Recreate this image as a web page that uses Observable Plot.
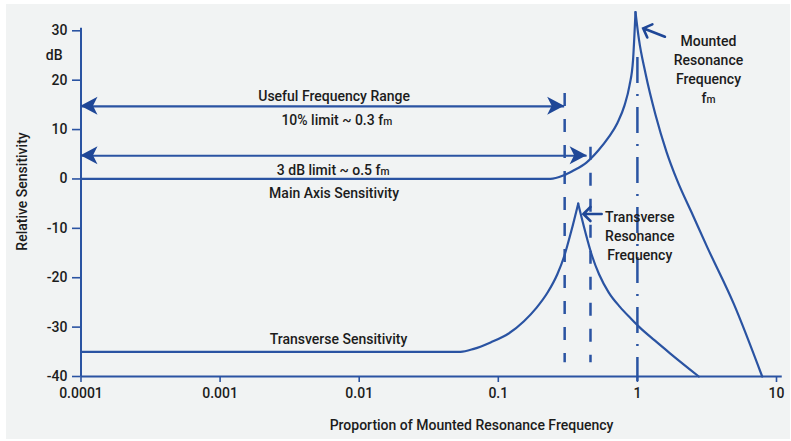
<!DOCTYPE html>
<html>
<head>
<meta charset="utf-8">
<script src="https://cdn.jsdelivr.net/npm/d3@7"></script>
<script src="https://cdn.jsdelivr.net/npm/@observablehq/plot@0.6"></script>
<style>
  html, body { margin: 0; padding: 0; background: #ffffff; width: 791px; height: 441px; overflow: hidden; }
  #panel { position: absolute; left: 6px; top: 4px; width: 784px; height: 435px; background: #f1f3f3; }
  #chart { position: absolute; left: 0; top: 0; }
</style>
</head>
<body>
<div id="panel"></div>
<div id="chart"></div>
<script>
// Main-axis sensitivity (dB) vs. proportion of the mounted resonance frequency,
// split at the resonance peak so each flank is interpolated on its own.
const mainRiseFreq = [0.0001, 0.237, 0.294, 0.347, 0.43, 0.525, 0.62, 0.72, 0.808, 0.877, 0.93, 0.969];
const mainRiseDb   = [0, 0, 0.7, 1.7, 3.3, 5.8, 8.4, 11.4, 14.9, 18.9, 24.0, 33.8];
const mainFallFreq = [0.969, 1.024, 1.143, 1.349, 1.619, 1.932, 2.5, 3.176, 4.932, 7.89];
const mainFallDb   = [33.8, 28.4, 21.4, 13.0, 5.5, -0.3, -7.3, -13.8, -25.3, -40];

// Transverse sensitivity (dB), split at the transverse resonance peak
const transRiseFreq = [0.0001, 0.0535, 0.0667, 0.088, 0.1187, 0.1529, 0.188, 0.2261, 0.2657, 0.2981, 0.3344, 0.3753];
const transRiseDb   = [-35, -35, -34.4, -33.1, -31.3, -28.8, -26.1, -23.0, -19.3, -15.6, -10.6, -5.0];
const transFallFreq = [0.3753, 0.421, 0.4724, 0.5301, 0.6228, 0.7488, 0.9003, 1.0337, 1.3317, 1.7158, 2.763];
const transFallDb   = [-5.0, -10.6, -15.6, -19.3, -23.0, -25.9, -28.3, -30.0, -32.7, -35.3, -40];

// Axis ticks
const xTicks = [0.0001, 0.001, 0.01, 0.1, 1, 10];
const xTickLabels = ["0.0001", "0.001", "0.01", "0.1", "1", "10"];
const yTicks = [30, 20, 10, 0, -10, -20, -30, -40];
const xAxisSpan = [0.0001, 11];
const yAxisSpan = [-40, 30.5];

// Frequency-range arrows (10% limit and 3 dB limit)
const rangeDb = [14.7, 4.7];
const rangeStart = [0.0001, 0.0001];
const rangeEnd = [0.3, 0.435];

// Dashed limit lines
const limitFreq = [0.3, 0.46];
const limitTop = [17.3, 6.4];
const limitBottom = [-37.2, -37.2];

// Dash-dot line at the mounted resonance frequency
const resonanceFreq = [1];
const resonanceTop = [24.6];
const resonanceBottom = [-41];

// Pointer arrows towards the two resonance peaks
const pointerTailFreq = [1.59, 0.558];
const pointerTailDb = [28.7, -7.2];
const pointerTipFreq = [1.11, 0.412];
const pointerTipDb = [30.4, -7.2];

// Annotations
const noteText = [
  "Useful Frequency Range",
  "10% limit ~ 0.3 fₘ",
  "3 dB limit ~ o.5 fₘ",
  "Main Axis Sensitivity",
  "Transverse Sensitivity",
  "Mounted\nResonance\nFrequency\nfₘ",
  "Transverse\nResonance\nFrequency"
];
const noteFreq = [0.0066, 0.0069, 0.0065, 0.0066, 0.0071, 3.245, 1.04];
const noteDb = [17.0, 12.2, 2.0, -2.6, -32.1, 22.4, -11.3];

const BLUE = "#2a53a2";
const DARK_BLUE = "#1f4797";
const INK = "#1c1c1c";

// Tables built from the arrays above
const curveRows = [
  ...mainRiseFreq.map((f, i) => ({segment: "main-rise", freq: f, db: mainRiseDb[i]})),
  ...mainFallFreq.map((f, i) => ({segment: "main-fall", freq: f, db: mainFallDb[i]})),
  ...transRiseFreq.map((f, i) => ({segment: "trans-rise", freq: f, db: transRiseDb[i]})),
  ...transFallFreq.map((f, i) => ({segment: "trans-fall", freq: f, db: transFallDb[i]}))
];
const rangeRows = rangeDb.map((db, i) => ({db, start: rangeStart[i], end: rangeEnd[i]}));
const limitRows = limitFreq.map((f, i) => ({freq: f, top: limitTop[i], bottom: limitBottom[i]}));
const resonanceRows = resonanceFreq.map((f, i) => ({freq: f, top: resonanceTop[i], bottom: resonanceBottom[i]}));
const pointerRows = pointerTipFreq.map((f, i) => ({
  tailFreq: pointerTailFreq[i], tailDb: pointerTailDb[i], tipFreq: f, tipDb: pointerTipDb[i]
}));
const noteRows = noteText.map((t, i) => ({text: t, freq: noteFreq[i], db: noteDb[i]}));

// Arrowheads: filled darts for the range arrows, open chevrons for the pointers
function arrowHeads(index, {x, y}) {
  const g = d3.create("svg:g");
  for (const r of rangeRows) {
    const py = y(r.db);
    for (const [px, rot] of [[x(r.start), 180], [x(r.end), 0]]) {
      g.append("path")
        .attr("d", "M0,0L-17,-9L-12.5,0L-17,9Z")
        .attr("fill", DARK_BLUE)
        .attr("transform", `translate(${px},${py}) rotate(${rot})`);
    }
  }
  for (const p of pointerRows) {
    const x1 = x(p.tailFreq), y1 = y(p.tailDb), x2 = x(p.tipFreq), y2 = y(p.tipDb);
    const a = Math.atan2(y2 - y1, x2 - x1);
    const len = 10, spread = 0.78;
    const w1 = [x2 - len * Math.cos(a - spread), y2 - len * Math.sin(a - spread)];
    const w2 = [x2 - len * Math.cos(a + spread), y2 - len * Math.sin(a + spread)];
    g.append("path")
      .attr("d", `M${x1},${y1}L${x2},${y2}M${w1}L${x2},${y2}L${w2}`)
      .attr("fill", "none")
      .attr("stroke", DARK_BLUE)
      .attr("stroke-width", 2.6)
      .attr("stroke-linecap", "round")
      .attr("stroke-linejoin", "miter");
  }
  return g.node();
}

const chart = Plot.plot({
  width: 791,
  height: 441,
  marginLeft: 80,
  marginRight: 11,
  marginTop: 6,
  marginBottom: 65,
  style: {
    fontFamily: "Roboto, 'Noto Sans', sans-serif",
    fontSize: "14px",
    fontWeight: 500,
    color: INK,
    background: "transparent",
    overflow: "visible"
  },
  x: {type: "log", domain: [xTicks[0], xTicks[xTicks.length - 1]], range: [80.5, 776]},
  y: {domain: [yTicks[yTicks.length - 1], yTicks[0]], range: [376, 30.3]},
  marks: [
    // axis lines
    Plot.ruleX([xAxisSpan[0]], {y1: yAxisSpan[0], y2: yAxisSpan[1], stroke: BLUE, strokeWidth: 2}),
    Plot.ruleY([yAxisSpan[0]], {x1: xAxisSpan[0], x2: xAxisSpan[1], stroke: BLUE, strokeWidth: 2}),
    Plot.axisY({
      ticks: yTicks, tickSize: 8, tickPadding: 5, tickFormat: d => String(d),
      stroke: BLUE, strokeWidth: 1.6, fill: INK, label: null
    }),
    Plot.axisY([25], {tickSize: 0, tickPadding: 18, tickFormat: () => "dB", fill: INK, label: null}),
    Plot.axisX({
      ticks: xTicks, tickSize: 6, tickPadding: 6,
      tickFormat: d => xTickLabels[xTicks.indexOf(d)],
      stroke: BLUE, strokeWidth: 1.6, fill: INK, label: null
    }),
    // limit lines
    Plot.ruleX(limitRows, {
      x: "freq", y1: "top", y2: "bottom",
      stroke: BLUE, strokeWidth: 2.5, strokeDasharray: "13,13"
    }),
    Plot.ruleX(resonanceRows, {
      x: "freq", y1: "top", y2: "bottom",
      stroke: BLUE, strokeWidth: 2.5, strokeDasharray: "26,11,2,11"
    }),
    // sensitivity curves
    Plot.line(curveRows, {
      x: "freq", y: "db", z: "segment", curve: "monotone-x",
      stroke: BLUE, strokeWidth: 2.2
    }),
    // range arrow shafts
    Plot.ruleY(rangeRows, {y: "db", x1: "start", x2: "end", stroke: BLUE, strokeWidth: 2.2}),
    arrowHeads,
    // annotations
    Plot.text(noteRows, {
      x: "freq", y: "db", text: "text",
      fill: INK, fontSize: 14, lineHeight: 1.38
    }),
    // axis titles
    Plot.text(["Relative Sensitivity"], {
      frameAnchor: "left", dx: -58, rotate: -90,
      textAnchor: "middle", lineAnchor: "middle", fill: INK, fontSize: 14
    }),
    Plot.text(["Proportion of Mounted Resonance Frequency"], {
      frameAnchor: "bottom", dx: 41, dy: 49,
      textAnchor: "middle", lineAnchor: "middle", fill: INK, fontSize: 14
    })
  ]
});

// Render the subscript m of "fₘ" as a smaller glyph on the baseline
const SVG_NS = "http://www.w3.org/2000/svg";
chart.querySelectorAll("text, tspan").forEach(el => {
  for (const node of [...el.childNodes]) {
    if (node.nodeType === 3 && node.nodeValue.includes("ₘ")) {
      const parts = node.nodeValue.split("ₘ");
      const frag = document.createDocumentFragment();
      parts.forEach((s, i) => {
        if (i) {
          const t = document.createElementNS(SVG_NS, "tspan");
          t.setAttribute("font-size", "0.74em");
          t.textContent = "m";
          frag.appendChild(t);
        }
        if (s) frag.appendChild(document.createTextNode(s));
      });
      el.replaceChild(frag, node);
    }
  }
});

document.getElementById("chart").appendChild(chart);
</script>
</body>
</html>
